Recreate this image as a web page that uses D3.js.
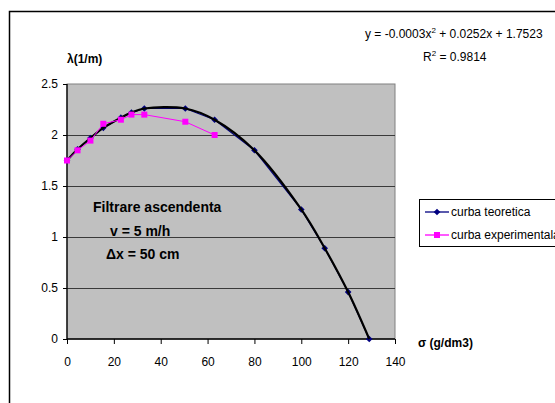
<!DOCTYPE html>
<html>
<head>
<meta charset="utf-8">
<script src="https://cdn.jsdelivr.net/npm/d3@7"></script>
<style>
  body { margin: 0; background: #fff; }
  svg { display: block; font-family: "Liberation Sans", Arial, sans-serif; }
</style>
</head>
<body>
<div id="chart"></div>
<script>
'use strict';

// theoretical curve (blue diamonds) - sigma (g/dm3), lambda (1/m)
var teorX = [0, 4.5, 10, 15.5, 23, 27.5, 33, 50.5, 63, 80, 100, 110, 120, 129];
var teorY = [1.75, 1.86, 1.97, 2.07, 2.17, 2.22, 2.26, 2.26, 2.15, 1.85, 1.27, 0.89, 0.46, 0];

// experimental curve (magenta squares)
var expX = [0, 4.5, 10, 15.5, 23, 27.5, 33, 50.5, 63];
var expY = [1.75, 1.85, 1.945, 2.11, 2.15, 2.2, 2.2, 2.13, 2.0];

var xTicks = [0, 20, 40, 60, 80, 100, 120, 140];
var yTicks = [0, 0.5, 1, 1.5, 2, 2.5];

var legendNames = ["curba teoretica", "curba experimentala"];
var noteLines = ["Filtrare ascendenta", "v = 5 m/h", "\u0394x = 50 cm"];

var App = { width: 555, height: 403 };

var svg = d3.select("#chart").append("svg")
  .attr("width", App.width)
  .attr("height", App.height);

// outer chart frame (right/bottom run off the picture)
svg.append("rect")
  .attr("x", 9.5).attr("y", 11.5)
  .attr("width", 600).attr("height", 450)
  .attr("fill", "#fff").attr("stroke", "#000").attr("stroke-width", 1.5);

var x = d3.scaleLinear().domain([0, 140]).range([67, 395]);
var y = d3.scaleLinear().domain([0, 2.5]).range([339, 84]);

// plot area
svg.append("rect")
  .attr("x", x(0)).attr("y", y(2.5))
  .attr("width", x(140) - x(0)).attr("height", y(0) - y(2.5))
  .attr("fill", "#c0c0c0").attr("stroke", "#808080").attr("stroke-width", 1);

// gridlines
svg.append("g").selectAll("line")
  .data(yTicks.filter(function(d) { return d > 0 && d < 2.5; }))
  .enter().append("line")
  .attr("x1", x(0)).attr("x2", x(140))
  .attr("y1", function(d) { return Math.round(y(d)) + 0.5; })
  .attr("y2", function(d) { return Math.round(y(d)) + 0.5; })
  .attr("stroke", "#3a3a3a").attr("stroke-width", 1);

// axes
var xAxis = svg.append("g")
  .attr("transform", "translate(0," + y(0) + ")")
  .call(d3.axisBottom(x).tickValues(xTicks).tickSize(5).tickPadding(13).tickFormat(d3.format("d")));
var yAxis = svg.append("g")
  .attr("transform", "translate(" + x(0) + ",0)")
  .call(d3.axisLeft(y).tickValues(yTicks).tickSize(4).tickPadding(5).tickFormat(function(d) { return String(d); }));

[xAxis, yAxis].forEach(function(a) {
  a.select(".domain").attr("stroke", "#000").attr("stroke-width", 1.3);
  a.selectAll(".tick line").attr("stroke", "#000");
  a.selectAll("text").attr("font-size", 12).attr("fill", "#000")
    .attr("font-family", "Liberation Sans, Arial, sans-serif");
});
xAxis.select(".domain").attr("d", "M" + x(0) + ",0H" + x(140));
yAxis.select(".domain").attr("d", "M0," + y(0) + "V" + y(2.5));

var teor = teorX.map(function(d, i) { return [d, teorY[i]]; });
var exp = expX.map(function(d, i) { return [d, expY[i]]; });

var line = d3.line()
  .x(function(d) { return x(d[0]); })
  .y(function(d) { return y(d[1]); });

// theoretical series
svg.append("path").datum(teor)
  .attr("d", line).attr("fill", "none")
  .attr("stroke", "#000080").attr("stroke-width", 1.2);

var diamond = d3.symbol().type(d3.symbolDiamond2).size(28);
svg.append("g").selectAll("path")
  .data(teor).enter().append("path")
  .attr("d", diamond)
  .attr("transform", function(d) { return "translate(" + x(d[0]) + "," + y(d[1]) + ")"; })
  .attr("fill", "#000080");

// trendline (black, smooth through theoretical points)
svg.append("path").datum(teor)
  .attr("d", line.curve(d3.curveCatmullRom))
  .attr("fill", "none")
  .attr("stroke", "#000").attr("stroke-width", 2.2);

// experimental series
svg.append("path").datum(exp)
  .attr("d", d3.line()
    .x(function(d) { return x(d[0]); })
    .y(function(d) { return y(d[1]); }))
  .attr("fill", "none")
  .attr("stroke", "#ff00ff").attr("stroke-width", 1);

svg.append("g").selectAll("rect")
  .data(exp).enter().append("rect")
  .attr("x", function(d) { return x(d[0]) - 3; })
  .attr("y", function(d) { return y(d[1]) - 3; })
  .attr("width", 6).attr("height", 6)
  .attr("fill", "#ff00ff");

// texts
svg.append("text")
  .attr("x", 365).attr("y", 38)
  .attr("font-size", 12)
  .html('y = -0.0003x<tspan dy="-5" font-size="8">2</tspan><tspan dy="5"> + 0.0252x + 1.7523</tspan>');
svg.append("text")
  .attr("x", 423).attr("y", 61)
  .attr("font-size", 12)
  .html('R<tspan dy="-5" font-size="8">2</tspan><tspan dy="5"> = 0.9814</tspan>');

svg.append("text")
  .attr("x", 67).attr("y", 63)
  .attr("font-size", 12).attr("font-weight", "bold")
  .text("\u03bb(1/m)");

svg.append("text")
  .attr("x", 418).attr("y", 347)
  .attr("font-size", 12).attr("font-weight", "bold")
  .text("\u03c3 (g/dm3)");

var noteX = [93, 110, 106];
var noteY = [212, 236, 259];
svg.append("g").selectAll("text")
  .data(noteLines).enter().append("text")
  .attr("x", function(d, i) { return noteX[i]; })
  .attr("y", function(d, i) { return noteY[i]; })
  .attr("font-size", 14).attr("font-weight", "bold")
  .text(function(d) { return d; });

// legend
var lg = svg.append("g");
lg.append("rect")
  .attr("x", 419.5).attr("y", 199.5)
  .attr("width", 160).attr("height", 47)
  .attr("fill", "#fff").attr("stroke", "#000").attr("stroke-width", 1);

var legColors = ["#000080", "#ff00ff"];
var legY = [212, 235];
legendNames.forEach(function(name, i) {
  lg.append("line")
    .attr("x1", 425).attr("x2", 449)
    .attr("y1", legY[i]).attr("y2", legY[i])
    .attr("stroke", legColors[i]).attr("stroke-width", 1.3);
  if (i === 0) {
    lg.append("path").attr("d", diamond)
      .attr("transform", "translate(437," + legY[i] + ")")
      .attr("fill", legColors[i]);
  } else {
    lg.append("rect").attr("x", 434).attr("y", legY[i] - 3)
      .attr("width", 6).attr("height", 6).attr("fill", legColors[i]);
  }
  lg.append("text")
    .attr("x", 451).attr("y", legY[i] + 4)
    .attr("font-size", 12)
    .text(name);
});
</script>
</body>
</html>
